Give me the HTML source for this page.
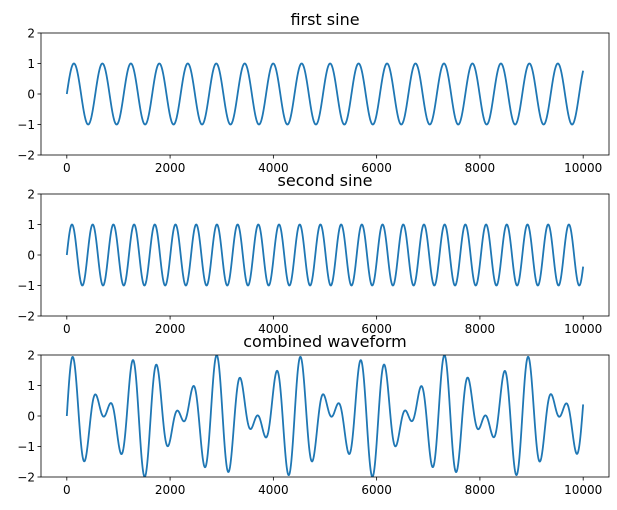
<!DOCTYPE html>
<html><head><meta charset="utf-8"><style>
html,body{margin:0;padding:0;background:#fff;}
svg{display:block;font-family:"DejaVu Sans","Liberation Sans",sans-serif;}
</style></head><body>
<svg id="fig" width="617" height="510"></svg>
<script>
const titles = ["first sine", "second sine", "combined waveform"];
const cyclesFirst = [18.14];
const cyclesSecond = [24.94];
const sampleCount = [10000];
const xTicks = [0, 2000, 4000, 6000, 8000, 10000];
const yTicks = [-2, -1, 0, 1, 2];
const xDomain = [-500, 10500];
const yDomain = [-2, 2];

const NS = "http://www.w3.org/2000/svg";
const svg = document.getElementById("fig");
const L = 41, R = 609, H = 122;
const tops = [33, 194, 355];
function mk(tag, attrs, parent) {
  const e = document.createElementNS(NS, tag);
  for (const k in attrs) e.setAttribute(k, attrs[k]);
  (parent || svg).appendChild(e);
  return e;
}
const xs = v => L + (v - xDomain[0]) / (xDomain[1] - xDomain[0]) * (R - L);

const N = sampleCount[0];
function s1(i) { return Math.sin(2 * Math.PI * cyclesFirst[0] * i / N); }
function s2(i) { return Math.sin(2 * Math.PI * cyclesSecond[0] * i / N); }
const series = [s1, s2, i => s1(i) + s2(i)];

tops.forEach((top, k) => {
  const ys = v => top + (yDomain[1] - v) / (yDomain[1] - yDomain[0]) * H;
  const g = mk("g", {});
  
  
  let d = "";
  for (let i = 0; i < N; i += 5) {
    d += (i ? "L" : "M") + xs(i).toFixed(2) + "," + ys(series[k](i)).toFixed(2);
  }
  d += "L" + xs(N - 1).toFixed(2) + "," + ys(series[k](N - 1)).toFixed(2);
  const clip = mk("clipPath", { id: "c" + k }, g);
  mk("rect", { x: L, y: top, width: R - L, height: H }, clip);
  const line = mk("path", { d: d, fill: "none", stroke: "#1f77b4", "stroke-width": 1.8, "stroke-linejoin": "round", "clip-path": "url(#c" + k + ")" }, g);
  
  
  const frame = mk("rect", { x: L, y: top, width: R - L, height: H, fill: "none", stroke: "#000", "stroke-width": 0.8 }, g);
  
  
  xTicks.forEach(t => {
    const x = xs(t);
    mk("line", { x1: x, x2: x, y1: top + H, y2: top + H + 3.5, stroke: "#000", "stroke-width": 0.8 }, g);
    const tx = mk("text", { x: x, y: top + H + 17, "font-size": 12, "text-anchor": "middle", fill: "#000" }, g);
    tx.textContent = t;
    
    
  });
  yTicks.forEach(t => {
    const y = ys(t);
    mk("line", { x1: L - 3.5, x2: L, y1: y, y2: y, stroke: "#000", "stroke-width": 0.8 }, g);
    const tx = mk("text", { x: L - 6, y: y + 4.5, "font-size": 12, "text-anchor": "end", fill: "#000" }, g);
    tx.textContent = t < 0 ? "\u2212" + (-t) : t;
    
    
  });
  const ti = mk("text", { x: (L + R) / 2, y: top - 8, "font-size": 16, "text-anchor": "middle", fill: "#000" }, g);
  ti.textContent = titles[k];
  
  
});
</script>
</body></html>
